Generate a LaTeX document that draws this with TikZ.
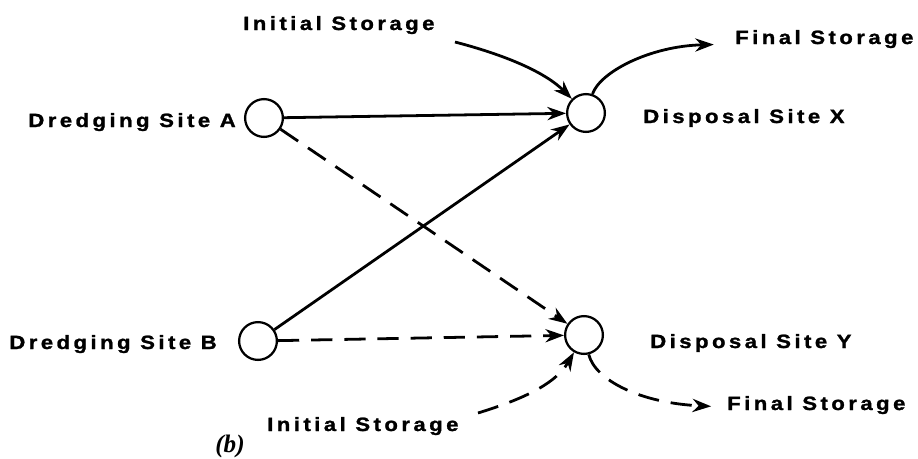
\documentclass[tikz,border=0pt]{standalone}
\usepackage{fontspec}
\setmainfont{Liberation Sans}
\newfontfamily\lblfont[LetterSpace=18,FakeStretch=1.15,FakeBold=1.3]{Liberation Sans}
\newfontfamily\capfont{Liberation Serif}
\usetikzlibrary{arrows.meta,calc}
\begin{document}
\begin{tikzpicture}[x=0.0265cm,y=-0.0265cm,
  site/.style={circle,draw,line width=1.7pt,minimum size=28.5pt,inner sep=0pt},
  lbl/.style={font=\lblfont\bfseries\fontsize{14.5}{17}\selectfont,inner sep=0pt},
  flow/.style={line width=2.1pt,-{Stealth[length=14pt,width=10pt]}},
  dflow/.style={flow,dash pattern=on 16pt off 9pt}]
\useasboundingbox (0,0) rectangle (918,459);
\node[site] (A) at (264,118) {};
\node[site] (X) at (586,113) {};
\node[site] (B) at (258,341) {};
\node[site] (Y) at (584,335) {};
\node[lbl,anchor=base east] (dA) at (236,127) {Dredging Site A};
\node[lbl,anchor=base east] (dB) at (217,349) {Dredging Site B};
\node[lbl,anchor=base west] (pX) at (643,123) {Disposal Site X};
\node[lbl,anchor=base west] (pY) at (650,348) {Disposal Site Y};
\node[lbl,anchor=base west] (is1) at (243,30) {Initial Storage};
\node[lbl,anchor=base west] (is2) at (267,431) {Initial Storage};
\node[lbl,anchor=base west] (fs1) at (735,44) {Final Storage};
\node[lbl,anchor=base west] (fs2) at (727,410) {Final Storage};
\node[font=\capfont\bfseries\itshape\fontsize{19}{21}\selectfont,anchor=base west,inner sep=0pt] (cap) at (215,452) {(b)};
\coordinate (s1) at (455,42);
\coordinate (s2) at (478,413);
\draw[flow] (A) -- (X);
\draw[flow] (B) -- (X);
\draw[dflow] (A) -- (Y);
\draw[dflow] (B) -- (Y);
\draw[flow] (s1) .. controls (505,55) and (545,72) .. (X);
\draw[flow,shorten >=16pt] (X) .. controls (600,72) and (650,46) .. ($(fs1.west)+(0,5)$);
\draw[dflow] (s2) .. controls (520,400) and (555,385) .. (Y);
\draw[dflow,shorten >=12pt] (Y) .. controls (595,380) and (640,403) .. ($(fs2.west)+(0,2)$);
\end{tikzpicture}
\end{document}
